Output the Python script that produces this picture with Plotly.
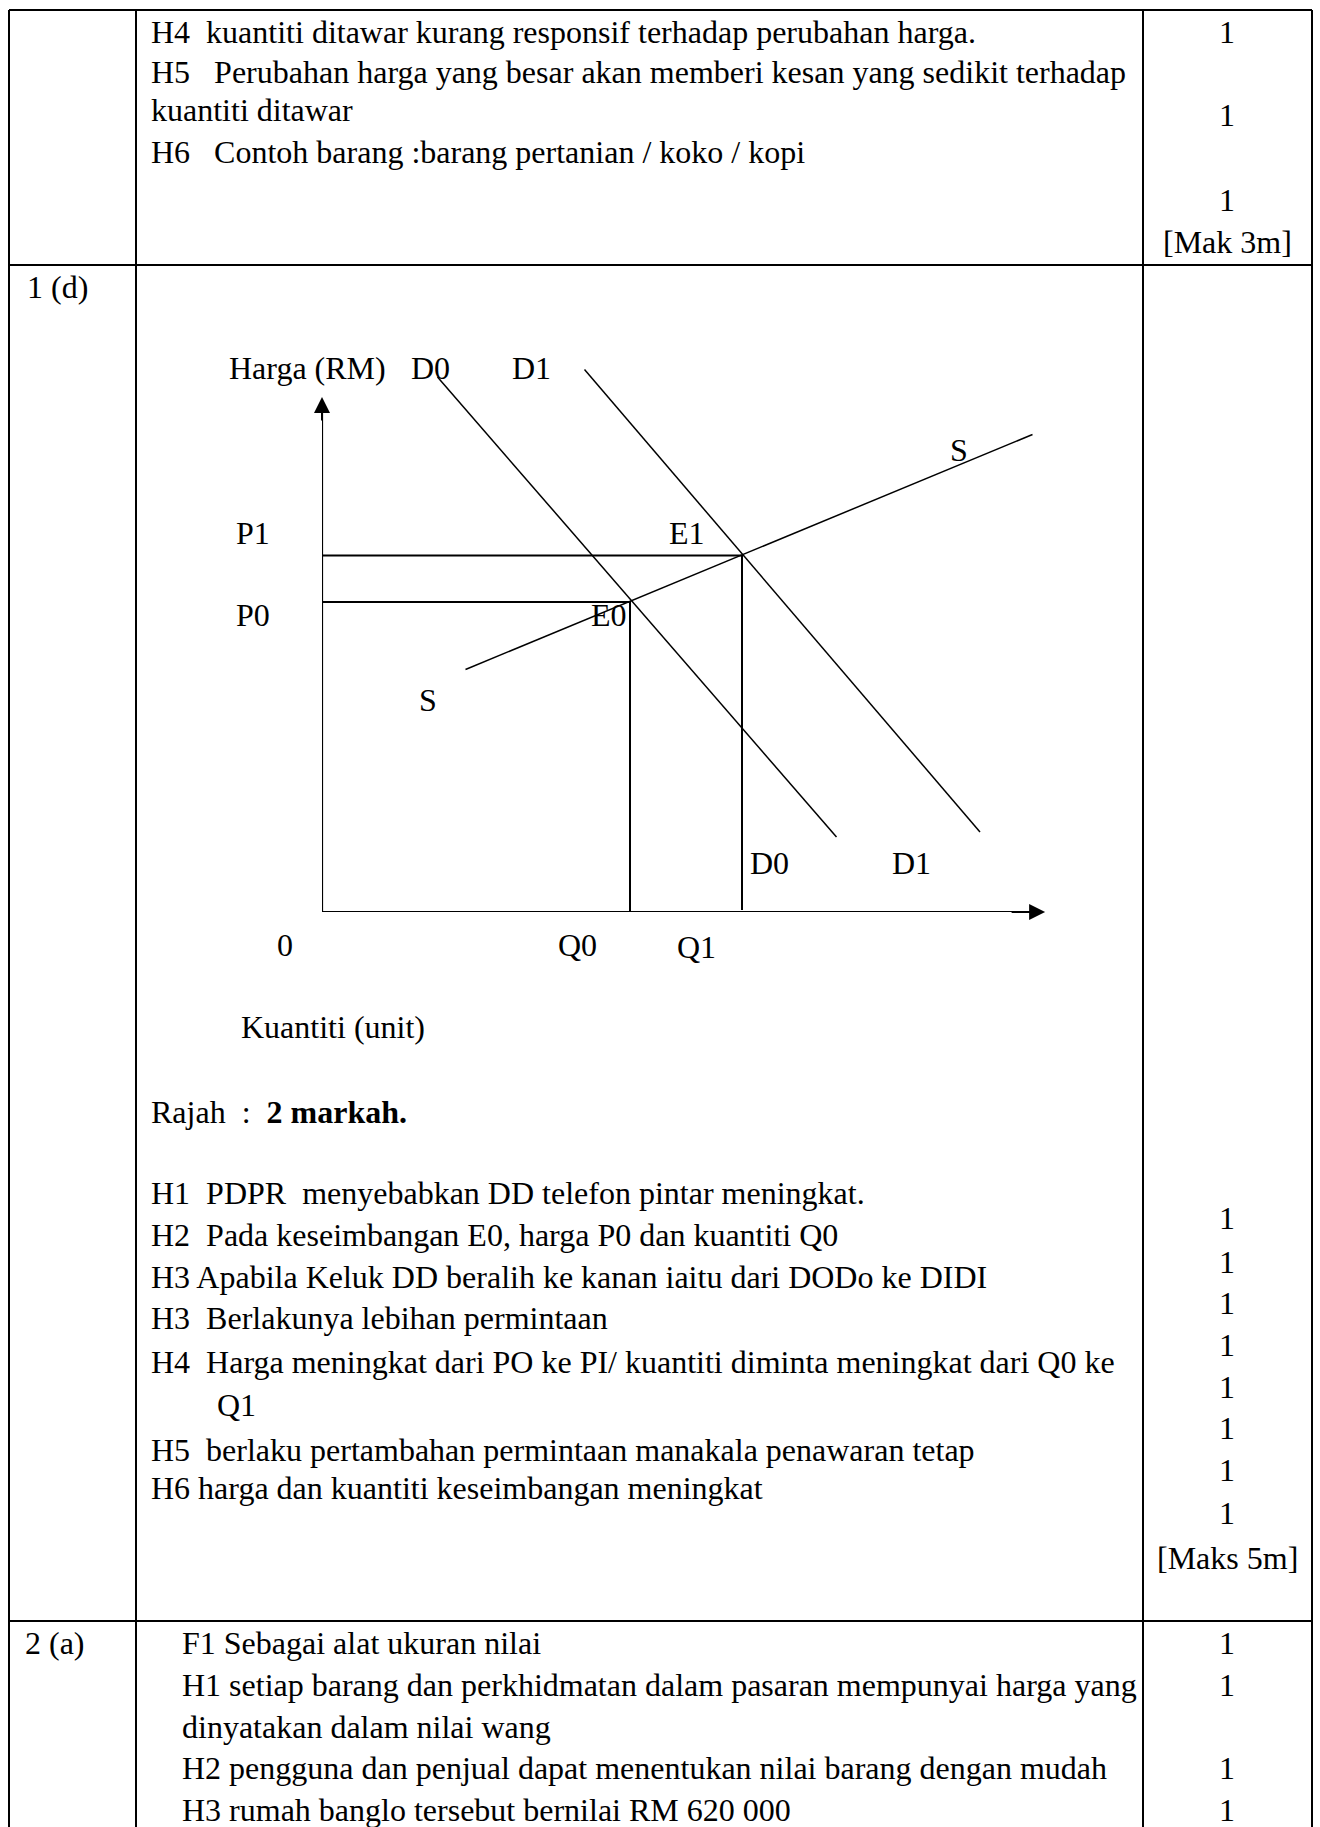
import plotly.graph_objects as go

W, H = 1320, 1827
FONT = "Liberation Serif"
FS = 32

# ---------------- diagram data (quantity / price units) ----------------
Q0, Q1 = 44, 60
P0, P1 = 62, 71.3
D0_q = [16.5, 73.5]
D0_p = [107, 15]
D1_q = [37.5, 94]
D1_p = [108.5, 16]
S_q = [20.5, 101.5]
S_p = [48.5, 95.5]
Q_AXIS_END = 103.3
P_AXIS_END = 103

# ---------------- table text ----------------
row1_text = [
    "H4\u00a0 kuantiti ditawar kurang responsif terhadap perubahan harga.",
    "H5\u00a0\u00a0 Perubahan harga yang besar akan memberi kesan yang sedikit terhadap",
    "kuantiti ditawar",
    "H6\u00a0\u00a0 Contoh barang :barang pertanian / koko / kopi",
]
row1_y = [32, 72, 110, 152]
row1_marks = ["1", "1", "1", "[Mak 3m]"]
row1_marks_y = [32, 115, 200, 242]

row2_text = [
    "Rajah\u00a0 :\u00a0 <b>2 markah.</b>",
    "H1\u00a0 PDPR\u00a0 menyebabkan DD telefon pintar meningkat.",
    "H2\u00a0 Pada keseimbangan E0, harga P0 dan kuantiti Q0",
    "H3 Apabila Keluk DD beralih ke kanan iaitu dari DODo ke DIDI",
    "H3\u00a0 Berlakunya lebihan permintaan",
    "H4\u00a0 Harga meningkat dari PO ke PI/ kuantiti diminta meningkat dari Q0 ke",
    "H5\u00a0 berlaku pertambahan permintaan manakala penawaran tetap",
    "H6 harga dan kuantiti keseimbangan meningkat",
]
row2_y = [1112, 1193, 1235, 1277, 1318, 1362, 1450, 1488]
row2_marks = ["1", "1", "1", "1", "1", "1", "1", "1", "[Maks 5m]"]
row2_marks_y = [1218, 1262, 1303, 1345, 1387, 1428, 1470, 1513, 1558]

row3_text = [
    "F1 Sebagai alat ukuran nilai",
    "H1 setiap barang dan perkhidmatan dalam pasaran mempunyai harga yang",
    "dinyatakan dalam nilai wang",
    "H2 pengguna dan penjual dapat menentukan nilai barang dengan mudah",
    "H3 rumah banglo tersebut bernilai RM 620 000",
]
row3_y = [1643, 1685, 1727, 1768, 1810]
row3_marks = ["1", "1", "1", "1"]
row3_marks_y = [1643, 1685, 1768, 1810]

fig = go.Figure()

# diagram curves on the economic axes (x2/y2)
line_style = dict(color="black", width=1.5)
fig.add_trace(go.Scatter(x=D0_q, y=D0_p, mode="lines", line=line_style, xaxis="x2", yaxis="y2"))
fig.add_trace(go.Scatter(x=D1_q, y=D1_p, mode="lines", line=line_style, xaxis="x2", yaxis="y2"))
fig.add_trace(go.Scatter(x=S_q, y=S_p, mode="lines", line=line_style, xaxis="x2", yaxis="y2"))
guide = dict(color="black", width=2)
fig.add_trace(go.Scatter(x=[0, Q0, Q0], y=[P0, P0, -0.6], mode="lines", line=guide, xaxis="x2", yaxis="y2"))
fig.add_trace(go.Scatter(x=[0, Q1, Q1], y=[P1, P1, 0.4], mode="lines", line=guide, xaxis="x2", yaxis="y2"))
fig.add_trace(go.Scatter(x=[0, 0], y=[-1.6, P_AXIS_END - 3], mode="lines", line=dict(color="black", width=2.2), xaxis="x2", yaxis="y2"))
fig.add_trace(go.Scatter(x=[0, Q_AXIS_END - 3], y=[0, 0], mode="lines", line=dict(color="black", width=2.2), xaxis="x2", yaxis="y2"))

ann = []
# arrow heads
ann.append(dict(x=0, y=P_AXIS_END, ax=0, ay=P_AXIS_END - 5, xref="x2", yref="y2", axref="x2", ayref="y2",
                showarrow=True, arrowhead=2, arrowsize=1.6, arrowwidth=2, arrowcolor="black", text=""))
ann.append(dict(x=Q_AXIS_END, y=0, ax=Q_AXIS_END - 5, ay=0, xref="x2", yref="y2", axref="x2", ayref="y2",
                showarrow=True, arrowhead=2, arrowsize=1.6, arrowwidth=2, arrowcolor="black", text=""))

def t(x, y, s, anchor="left"):
    ann.append(dict(x=x, y=y, xref="x", yref="y", text=s, showarrow=False,
                    xanchor=anchor, yanchor="middle", font=dict(family=FONT, size=FS, color="black")))

for s, y in zip(row1_text, row1_y):
    t(149, y, s)
for s, y in zip(row1_marks, row1_marks_y):
    t(1227, y, s, "center")
t(25, 287, "1 (d)")
for s, y in zip(row2_text, row2_y):
    t(149, y, s)
t(215, 1405, "Q1")
for s, y in zip(row2_marks, row2_marks_y):
    t(1227, y, s, "center")
t(23, 1643, "2 (a)")
for s, y in zip(row3_text, row3_y):
    t(180, y, s)
for s, y in zip(row3_marks, row3_marks_y):
    t(1227, y, s, "center")

# diagram labels
labels = [("Harga (RM)", 307, 368), ("D0", 430, 368), ("D1", 531, 368), ("S", 959, 450),
          ("P1", 253, 533), ("E1", 687, 533), ("P0", 253, 615), ("E0", 609, 615),
          ("S", 428, 700), ("D0", 769, 863), ("D1", 911, 863),
          ("0", 285, 945), ("Q0", 577, 945), ("Q1", 696, 947)]
for s, x, y in labels:
    t(x, y, s, "center")
t(239, 1027, "Kuantiti (unit)")

# table borders
shapes = []
bl = dict(color="black", width=2)
for x in [9, 136, 1143, 1312]:
    shapes.append(dict(type="line", xref="x", yref="y", x0=x, x1=x, y0=10, y1=H + 5, line=bl))
for y in [10, 265, 1621]:
    shapes.append(dict(type="line", xref="x", yref="y", x0=9, x1=1312, y0=y, y1=y, line=bl))

fig.update_layout(
    width=W, height=H, margin=dict(l=0, r=0, t=0, b=0),
    paper_bgcolor="white", plot_bgcolor="rgba(0,0,0,0)", showlegend=False,
    xaxis=dict(range=[0, W], domain=[0, 1], visible=False, fixedrange=True),
    yaxis=dict(range=[H, 0], domain=[0, 1], visible=False, fixedrange=True),
    xaxis2=dict(range=[0, 110], domain=[322 / W, 1092 / W], visible=False, anchor="y2", fixedrange=True),
    yaxis2=dict(range=[0, 110], domain=[1 - 912 / H, 1 - 362 / H], visible=False, anchor="x2", fixedrange=True),
    annotations=ann, shapes=shapes,
)

fig.write_html("out.html", config={"displayModeBar": False},
               post_script="document.body.style.margin='0px';document.body.style.overflow='hidden';")
